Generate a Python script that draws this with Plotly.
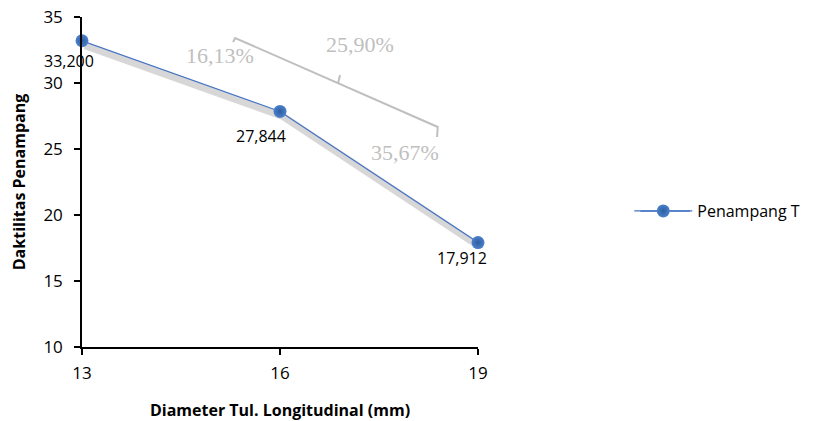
import plotly.graph_objects as go

# ---- data ----
diameters = [13, 16, 19]
daktilitas = [33.200, 27.844, 17.912]
series_name = "Penampang T"
pct_labels = ["16,13%", "25,90%", "35,67%"]
x_ticks = [13, 16, 19]
y_ticks = [10, 15, 20, 25, 30, 35]

X_RANGE = [13, 19]
Y_RANGE = [10, 35]

# plot area in pixels (for shadow offset)
PLOT_W, PLOT_H = 396, 330
SH_DX, SH_DY = 3, 5  # shadow offset, px
dx = SH_DX * (X_RANGE[1] - X_RANGE[0]) / PLOT_W
dy = SH_DY * (Y_RANGE[1] - Y_RANGE[0]) / PLOT_H

FONT = "Open Sans"
GRAY = "#BFBFBF"
BLUE = "#4472C4"

fig = go.Figure()

# shadow (on hidden base axes, shifted range)
fig.add_trace(go.Scatter(
    x=diameters, y=daktilitas, mode="lines",
    line=dict(color="rgba(150,150,150,0.38)", width=7),
    hoverinfo="skip", showlegend=False, xaxis="x", yaxis="y", cliponaxis=False,
))

# main series (on visible overlay axes)
fig.add_trace(go.Scatter(
    x=diameters, y=daktilitas, mode="lines+markers", name=series_name,
    line=dict(color=BLUE, width=1.2),
    marker=dict(size=13, color="#4A80CC",
                gradient=dict(type="radial", color="#2E5E9E"),
                line=dict(width=0)),
    xaxis="x2", yaxis="y2", cliponaxis=False,
))

def fmt(v):
    return f"{v:.3f}".replace(".", ",")

annotations = []
label_shift = [(-13, -20), (-19, -25), (-16, -15)]
for xv, yv, (sx, sy) in zip(diameters, daktilitas, label_shift):
    annotations.append(dict(
        x=xv, y=yv, xref="x2", yref="y2", text=fmt(yv), showarrow=False,
        xshift=sx, yshift=sy, font=dict(family=FONT, size=16, color="black"),
    ))

pct_pos = [(15.09, 32.05), (17.21, 32.95), (17.89, 24.70)]
for (px_, py_), t in zip(pct_pos, pct_labels):
    annotations.append(dict(
        x=px_, y=py_, xref="x2", yref="y2", text=t, showarrow=False,
        font=dict(family="Liberation Serif", size=22, color=GRAY),
    ))

shapes = [
    dict(type="path", xref="x2", yref="y2",
         path="M 15.29 33.11 L 15.32 33.41 L 18.39 26.67 L 18.38 25.91",
         line=dict(color=GRAY, width=2)),
    dict(type="line", xref="x2", yref="y2",
         x0=16.88, y0=30.0, x1=16.91, y1=30.61,
         line=dict(color=GRAY, width=2)),
    # legend line extension
    dict(type="line", xref="paper", yref="paper",
         x0=1.41, x1=1.535, y0=0.412, y1=0.412,
         line=dict(color=BLUE, width=1.2)),
]

axis_common = dict(
    showgrid=False, zeroline=False, showline=True, linecolor="black",
    linewidth=1.5, ticks="outside", ticklen=6, tickcolor="black", tickwidth=1.5,
    tickfont=dict(family=FONT, size=17, color="black"),
)

fig.update_layout(
    width=816, height=421,
    margin=dict(l=82, r=338, t=17, b=74, autoexpand=False),
    paper_bgcolor="white", plot_bgcolor="white",
    xaxis=dict(range=[X_RANGE[0] - dx, X_RANGE[1] - dx], visible=False, fixedrange=True),
    yaxis=dict(range=[Y_RANGE[0] + dy, Y_RANGE[1] + dy], visible=False, fixedrange=True),
    xaxis2=dict(range=X_RANGE, overlaying="x", side="bottom", tickvals=x_ticks,
                ticklabelstandoff=4, automargin=False,
                title=dict(text="<b>Diameter Tul. Longitudinal (mm)</b>", standoff=22,
                           font=dict(family=FONT, size=16, color="black")),
                **axis_common),
    yaxis2=dict(range=Y_RANGE, overlaying="y", side="left", tickvals=y_ticks,
                ticklabelstandoff=8, automargin=False,
                title=dict(text="<b>Daktilitas Penampang</b>", standoff=14,
                           font=dict(family=FONT, size=16, color="black")),
                **axis_common),
    legend=dict(x=1.382, y=0.412, xanchor="left", yanchor="middle",
                itemwidth=58,
                font=dict(family=FONT, size=16, color="black"),
                bgcolor="rgba(0,0,0,0)"),
    annotations=annotations,
    shapes=shapes,
    showlegend=True,
)

fig.write_html("out.html")
